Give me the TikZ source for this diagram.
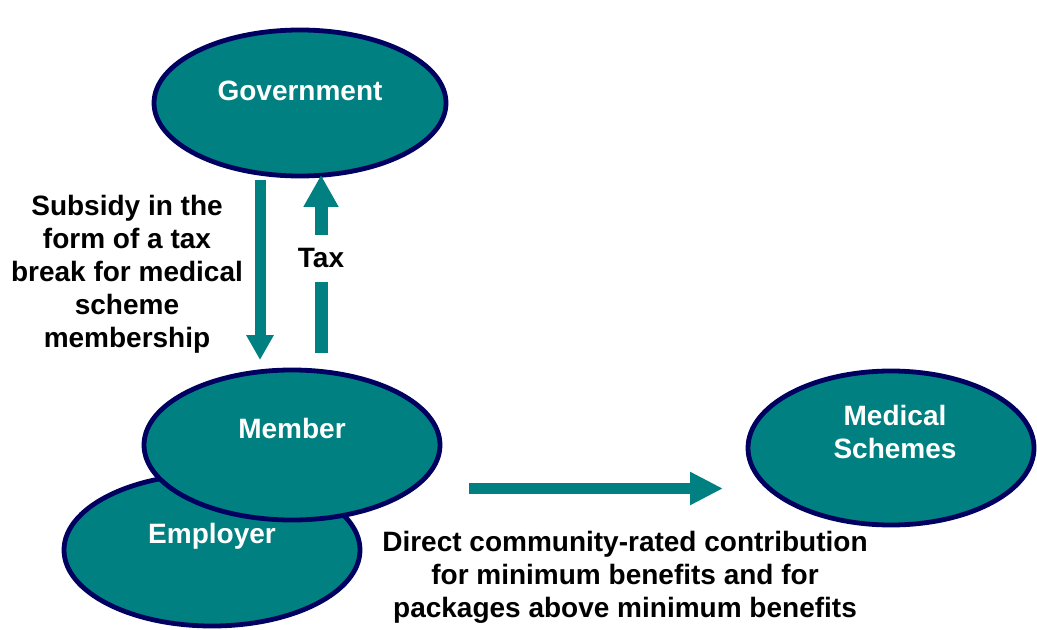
\documentclass[tikz,border=0pt]{standalone}
\usepackage{fontspec}
\setmainfont{Liberation Sans}
\usetikzlibrary{shapes.geometric,arrows.meta,calc}
\definecolor{tealfill}{RGB}{0,128,128}
\definecolor{navyedge}{RGB}{0,0,96}
\tikzset{
  oval/.style={ellipse, draw=navyedge, line width=2.4pt, fill=tealfill, inner sep=0pt},
  ovallabel/.style={font=\fontsize{14}{16.5}\selectfont\bfseries, text=white, align=center, inner sep=0pt},
  blacklabel/.style={font=\fontsize{14}{16.5}\selectfont\bfseries, text=black, align=center, inner sep=0pt},
  downarrow/.style={draw=tealfill, line width=5.5pt, -{Triangle[length=12.5pt,width=13pt]}},
  uparrow/.style={draw=tealfill, line width=6.5pt, -{Triangle[length=16pt,width=16.5pt]}},
  upshaft/.style={draw=tealfill, line width=6.5pt},
  rightarrow/.style={draw=tealfill, line width=5.5pt, -{Triangle[length=16.5pt,width=15.5pt]}}
}
\begin{document}
\begin{tikzpicture}[x=0.5pt,y=-0.5pt]
\useasboundingbox (0,0) rectangle (1037,630);
% ellipses
\node[oval, minimum width=146pt, minimum height=73pt] (gov) at (300,103) {};
\node[oval, minimum width=148pt, minimum height=76pt] (employer) at (212,550) {};
\node[oval, minimum width=148pt, minimum height=75pt] (member) at (292,445) {};
\node[oval, minimum width=143pt, minimum height=77pt] (schemes) at (891,448) {};
% ellipse texts
\node[ovallabel] (govtext) at ($(gov.center)+(0,-12)$) {Government};
\node[ovallabel] (membertext) at ($(member.center)+(0,-17)$) {Member};
\node[ovallabel] (employertext) at ($(employer.center)+(0,-14)$) {Employer};
\node[ovallabel] (schemestext) at ($(schemes.center)+(4,-16)$) {Medical\\Schemes};
% labels
\node[blacklabel] (subsidy) at (127,274) {Subsidy in the\\form of a tax\\break for medical\\scheme\\membership};
\node[blacklabel, minimum height=23.5pt] (tax) at (321,258.5) {Tax};
\node[blacklabel] (direct) at (625,577) {Direct community-rated contribution\\for minimum benefits and for\\packages above minimum benefits};
% arrow end points
\coordinate (subtop) at (260,180);
\coordinate (subbot) at (260,360);
\coordinate (taxbot) at (321,353);
\coordinate (taxtip) at (321,175);
\coordinate (contstart) at (469,488.5);
\coordinate (contend) at (723,488.5);
% arrows
\draw[downarrow] (subtop) -- (subbot);
\draw[upshaft] (taxbot) -- (tax.south);
\draw[uparrow] (tax.north) -- (taxtip);
\draw[rightarrow] (contstart) -- (contend);
\end{tikzpicture}
\end{document}
